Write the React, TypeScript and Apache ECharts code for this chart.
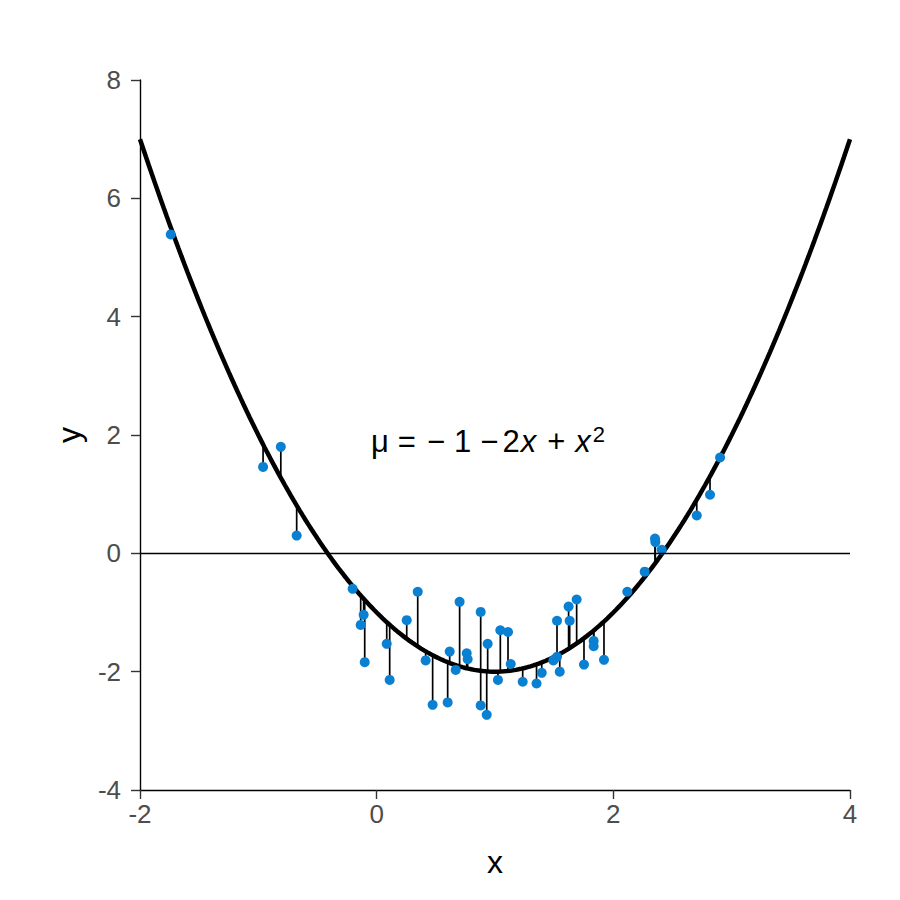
import React, { useEffect, useRef } from "react";
import * as echarts from "echarts";

// observed data (x, y)
const obsX = [
  -1.74, -0.96, -0.81, -0.676, -0.203, -0.11, -0.135, -0.101, 0.085, 0.11,
  0.254, 0.347, 0.414, 0.473, 0.617, 0.6, 0.701, 0.668, 0.761, 0.769,
  0.879, 0.879, 0.938, 0.93, 1.045, 1.11, 1.133, 1.025, 1.234, 1.351,
  1.395, 1.493, 1.524, 1.524, 1.547, 1.631, 1.622, 1.69, 1.752, 1.834,
  1.834, 1.921, 2.118, 2.265, 2.352, 2.355, 2.409, 2.705, 2.817, 2.902,
];
const obsY = [
  5.39, 1.46, 1.8, 0.3, -0.6, -1.04, -1.21, -1.84, -1.53, -2.14,
  -1.13, -0.65, -1.81, -2.56, -1.66, -2.52, -0.82, -1.97, -1.69, -1.79,
  -0.99, -2.57, -1.53, -2.73, -1.3, -1.33, -1.87, -2.14, -2.17, -2.2,
  -2.02, -1.81, -1.75, -1.14, -2.0, -1.14, -0.9, -0.78, -1.88, -1.48,
  -1.57, -1.8, -0.65, -0.31, 0.25, 0.19, 0.06, 0.64, 0.99, 1.62,
];

// model mu = b0 + b1 x + b2 x^2
const coef = [-1, -2, 1];
const xTicks = [-2, 0, 2, 4];
const yTicks = [-4, -2, 0, 2, 4, 6, 8];

const mu = (x: number) => coef[0] + coef[1] * x + coef[2] * x * x;

export default function App() {
  const ref = useRef<HTMLDivElement>(null);
  useEffect(() => {
    if (!ref.current) return;
    const chart = echarts.init(ref.current, undefined, { renderer: "svg" });
    const xmin = xTicks[0];
    const xmax = xTicks[xTicks.length - 1];
    const curve: number[][] = [];
    const n = 240;
    for (let i = 0; i <= n; i++) {
      const x = xmin + ((xmax - xmin) * i) / n;
      curve.push([x, mu(x)]);
    }
    const pts = obsX.map((x, i) => [x, obsY[i]]);
    const font = "Liberation Sans";
    const base = { fontSize: 31, fontFamily: font, fill: "#000", lineHeight: 36 };
    const ital = { ...base, fontStyle: "italic" };
    chart.setOption({
      animation: false,
      backgroundColor: "#ffffff",
      grid: { left: 140, right: 50, top: 80, bottom: 110, containLabel: false },
      xAxis: {
        type: "value",
        min: xmin,
        max: xmax,
        interval: 2,
        name: "x",
        nameLocation: "middle",
        nameGap: 56,
        nameTextStyle: { fontSize: 32, color: "#000", fontFamily: font },
        axisLine: { show: true, onZero: false, lineStyle: { color: "#000", width: 1.4 } },
        axisTick: { show: true, length: 9, lineStyle: { color: "#333", width: 1.4 } },
        axisLabel: { fontSize: 26, color: "#4d4d4d", margin: 11, fontFamily: font },
        splitLine: { show: false },
      },
      yAxis: {
        type: "value",
        min: yTicks[0],
        max: yTicks[yTicks.length - 1],
        interval: 2,
        name: "y",
        nameLocation: "middle",
        nameGap: 55,
        nameTextStyle: { fontSize: 32, color: "#000", fontFamily: font },
        axisLine: { show: true, onZero: false, lineStyle: { color: "#000", width: 1.4 } },
        axisTick: { show: true, length: 9, lineStyle: { color: "#333", width: 1.4 } },
        axisLabel: { fontSize: 26, color: "#4d4d4d", margin: 19, fontFamily: font },
        splitLine: { show: false },
      },
      series: [
        {
          type: "custom",
          data: pts,
          silent: true,
          z: 2,
          renderItem: (params: any, api: any) => {
            const x = api.value(0);
            const y = api.value(1);
            const p1 = api.coord([x, y]);
            const p2 = api.coord([x, mu(x)]);
            return {
              type: "line",
              shape: { x1: p1[0], y1: p1[1], x2: p2[0], y2: p2[1] },
              style: { stroke: "#000", lineWidth: 1.7 },
            };
          },
        },
        {
          type: "line",
          data: curve,
          showSymbol: false,
          symbol: "none",
          z: 3,
          lineStyle: { color: "#000", width: 4.5 },
          markLine: {
            silent: true,
            symbol: ["none", "none"],
            label: { show: false },
            lineStyle: { color: "#000", width: 1.3, type: "solid" },
            data: [{ yAxis: 0 }],
          },
        },
        {
          type: "scatter",
          data: pts,
          symbolSize: 10,
          z: 4,
          itemStyle: { color: "#0a80d2", opacity: 1 },
        },
      ],
      graphic: [
        {
          type: "text",
          left: 371,
          top: 423,
          style: {
            text: "{m|μ}{e|=}{a|−}{o|1}{b|−}{t|2}{xi|x}{p|+}{xj|x}{s|2}",
            fontFamily: font,
            rich: {
              m: { ...base, padding: [0, 9, 0, 0] },
              e: { ...base, padding: [0, 11, 0, 0] },
              a: { ...base, padding: [0, 9, 0, 0] },
              o: { ...base, padding: [0, 9, 0, 0] },
              b: { ...base, padding: [0, 4, 0, 0] },
              t: { ...base, padding: [0, 1, 0, 0] },
              xi: { ...ital, padding: [0, 11, 0, 0] },
              p: { ...base, padding: [0, 10, 0, 0] },
              xj: { ...ital, padding: [0, 2, 0, 0] },
              s: { fontSize: 22, fontFamily: font, fill: "#000", lineHeight: 22, verticalAlign: "top" },
            },
          },
        },
      ],
    });
    return () => chart.dispose();
  }, []);
  return (
    <div
      ref={ref}
      style={{ position: "absolute", left: 0, top: 0, width: 900, height: 900 }}
    />
  );
}
